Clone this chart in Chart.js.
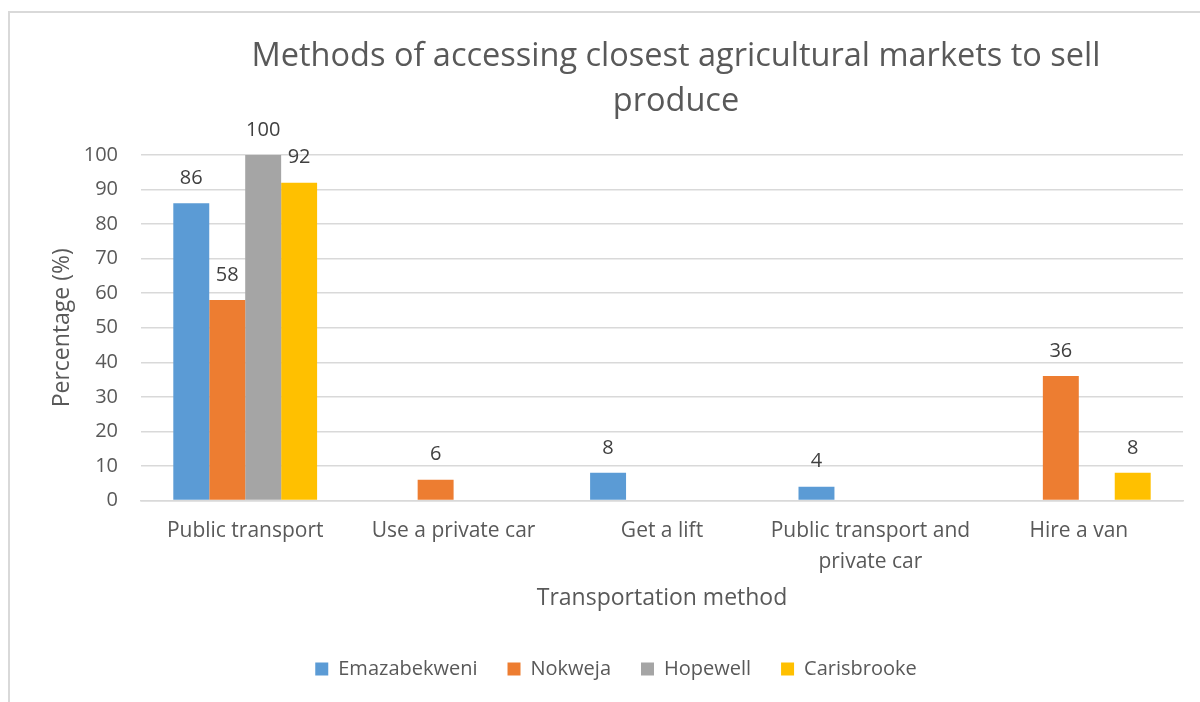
<!DOCTYPE html>
<html>
<head>
<meta charset="utf-8">
<script src="https://cdn.jsdelivr.net/npm/chart.js@4.4.1/dist/chart.umd.min.js"></script>
<style>
  html, body { margin: 0; padding: 0; background: #fff; }
  #wrap { width: 1200px; height: 702px; position: relative; }
</style>
</head>
<body>
<div id="wrap"><canvas id="myChart" width="1200" height="702"></canvas></div>
<script>
// DATA
const categories = ['Public transport', 'Use a private car', 'Get a lift', ['Public transport and', 'private car'], 'Hire a van'];
const emazabekweni = [86, null, 8, 4, null];
const nokweja = [58, 6, null, null, 36];
const hopewell = [100, null, null, null, null];
const carisbrooke = [92, null, null, null, 8];
const seriesNames = ['Emazabekweni', 'Nokweja', 'Hopewell', 'Carisbrooke'];
const seriesColors = ['#5B9BD5', '#ED7D31', '#A5A5A5', '#FFC000'];
const titleLines = ['Methods of accessing closest agricultural markets to sell', 'produce'];

const FONT = '"Open Sans"';
const TEXT = '#595959';

// titulo y borde dibujados a mano
const decorPlugin = {
    id: 'decor',
    beforeDraw(chart) {
        const ctx = chart.ctx;
        ctx.save();
        ctx.strokeStyle = '#d9d9d9';
        ctx.lineWidth = 2;
        ctx.beginPath();
        ctx.moveTo(9, 702);
        ctx.lineTo(9, 12);
        ctx.lineTo(1200, 12);
        ctx.stroke();
        ctx.fillStyle = TEXT;
        ctx.font = '32.5px ' + FONT;
        ctx.textAlign = 'center';
        ctx.textBaseline = 'middle';
        ctx.fillText(titleLines[0], 676, 57);
        ctx.fillText(titleLines[1], 676, 102);
        ctx.restore();
    }
};

// etiquetas de valores
const labelPlugin = {
    id: 'valueLabels',
    afterDatasetsDraw(chart) {
        const ctx = chart.ctx;
        ctx.save();
        ctx.fillStyle = '#404040';
        ctx.font = '20px ' + FONT;
        ctx.textAlign = 'center';
        ctx.textBaseline = 'middle';
        chart.data.datasets.forEach((ds, i) => {
            const meta = chart.getDatasetMeta(i);
            meta.data.forEach((bar, j) => {
                if (ds.data[j] === null) return;
                ctx.fillText(ds.data[j], bar.x, bar.y - 25);
            });
        });
        ctx.restore();
    }
};

const datasets = [emazabekweni, nokweja, hopewell, carisbrooke].map((vals, i) => ({
    label: seriesNames[i],
    data: vals,
    backgroundColor: seriesColors[i],
    borderWidth: 0,
    barPercentage: 1,
    categoryPercentage: 0.69
}));

const myChart = new Chart(document.getElementById('myChart'), {
    type: 'bar',
    data: { labels: categories, datasets: datasets },
    options: {
        responsive: false,
        animation: false,
        layout: { padding: { left: 49, right: 17, top: 155, bottom: 13 } },
        plugins: {
            title: { display: false },
            tooltip: { enabled: false },
            legend: {
                position: 'bottom',
                labels: {
                    color: TEXT,
                    font: { family: FONT, size: 20 },
                    boxWidth: 13,
                    boxHeight: 13,
                    padding: 30
                }
            }
        },
        scales: {
            x: {
                grid: { display: false },
                border: { display: true, color: '#d9d9d9', width: 1.5 },
                ticks: {
                    color: TEXT,
                    font: { family: FONT, size: 21, lineHeight: 1.43 },
                    padding: 8,
                    maxRotation: 0,
                    autoSkip: false
                },
                title: {
                    display: true,
                    text: 'Transportation method',
                    color: TEXT,
                    font: { family: FONT, size: 23 },
                    padding: { top: 0, bottom: 17 }
                },
                afterFit(scale) { scale.height = 128.5; }
            },
            y: {
                min: 0,
                max: 100,
                ticks: {
                    stepSize: 10,
                    color: TEXT,
                    font: { family: FONT, size: 20 },
                    padding: 23
                },
                grid: { color: '#d9d9d9', lineWidth: 1.5, drawTicks: false },
                border: { display: false },
                title: {
                    display: true,
                    text: 'Percentage (%)',
                    color: TEXT,
                    font: { family: FONT, size: 23 },
                    padding: { top: 0, bottom: 0 }
                },
                afterFit(scale) { scale.width = 92; }
            }
        }
    },
    plugins: [decorPlugin, labelPlugin]
});
</script>
</body>
</html>
